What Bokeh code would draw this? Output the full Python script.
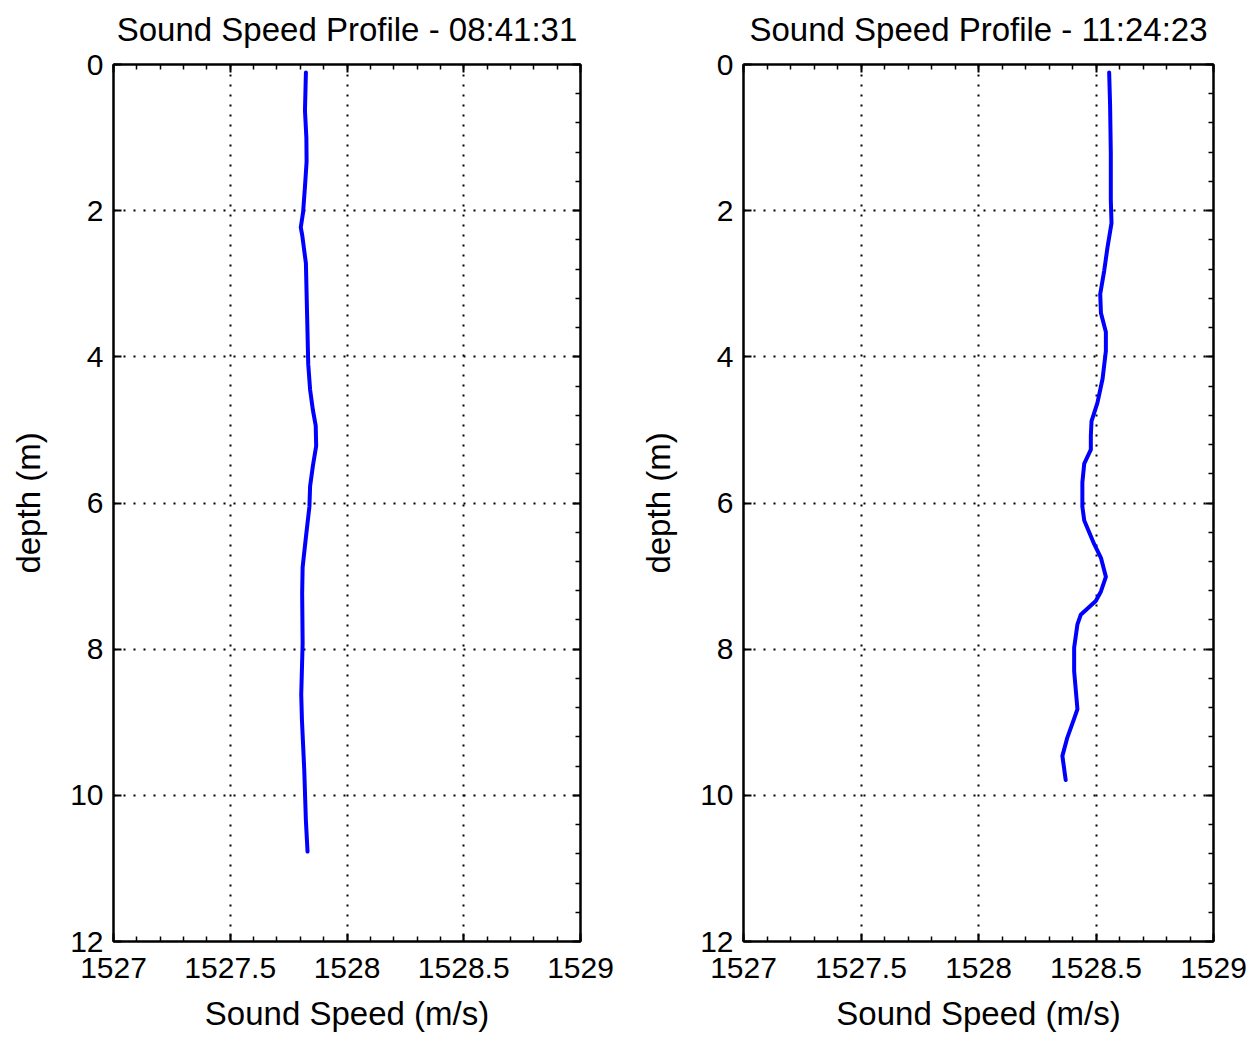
from bokeh.plotting import figure
from bokeh.layouts import row
from bokeh.models import LinearAxis, SingleIntervalTicker, Range1d, CustomLabelingPolicy
from bokeh.embed import file_html
from bokeh.resources import INLINE

# ---------------- data ----------------
title_left = "Sound Speed Profile - 08:41:31"
title_right = "Sound Speed Profile - 11:24:23"
x_label = "Sound Speed (m/s)"
y_label = "depth (m)"

x_ticks = [1527, 1527.5, 1528, 1528.5, 1529]
x_tick_labels = ["1527", "1527.5", "1528", "1528.5", "1529"]
y_ticks = [0, 2, 4, 6, 8, 10, 12]
y_tick_labels = ["0", "2", "4", "6", "8", "10", "12"]

depth_left = [0.11, 0.63, 1.00, 1.33, 1.67, 2.02, 2.23, 2.33, 2.72, 3.41, 4.10, 4.45,
              4.73, 4.94, 5.22, 5.49, 5.77, 6.05, 6.47, 6.88, 7.23, 7.92, 8.62,
              8.97, 9.31, 9.66, 10.35, 10.77]
speed_left = [1527.824, 1527.820, 1527.826, 1527.827, 1527.820, 1527.812, 1527.802, 1527.808,
              1527.824, 1527.829, 1527.834, 1527.842, 1527.854, 1527.866, 1527.868,
              1527.854, 1527.842, 1527.839, 1527.824, 1527.810, 1527.808, 1527.810,
              1527.804, 1527.807, 1527.812, 1527.817, 1527.824, 1527.831]

depth_right = [0.11, 0.56, 1.21, 1.85, 2.17, 2.50, 2.82, 3.14, 3.40, 3.66, 3.92,
               4.30, 4.63, 4.88, 5.08, 5.27, 5.46, 5.72, 6.05, 6.24, 6.56, 6.75,
               7.01, 7.21, 7.34, 7.53, 7.66, 7.98, 8.30, 8.82, 8.95, 9.21, 9.46, 9.79]
speed_right = [1528.556, 1528.560, 1528.563, 1528.563, 1528.566, 1528.549, 1528.535,
               1528.518, 1528.521, 1528.542, 1528.542, 1528.528, 1528.506, 1528.481,
               1528.478, 1528.478, 1528.450, 1528.442, 1528.442, 1528.450, 1528.492,
               1528.521, 1528.542, 1528.521, 1528.499, 1528.435, 1528.421, 1528.407,
               1528.407, 1528.421, 1528.407, 1528.378, 1528.357, 1528.371]

FONT = "Liberation Sans"


def make(title, speed, depth, fw, border_right):
    p = figure(frame_width=fw, frame_height=877,
               x_range=Range1d(x_ticks[0], x_ticks[-1]),
               y_range=Range1d(y_ticks[-1], y_ticks[0]),
               output_backend="svg", toolbar_location=None,
               min_border_left=113, min_border_right=border_right,
               min_border_top=65, min_border_bottom=90,
               margin=(-9, 0, 0, 0),
               title=title)
    p.title.align = "center"
    p.title.text_font = FONT
    p.title.text_font_size = "33px"
    p.title.text_font_style = "normal"
    p.title.text_color = "black"
    p.title.standoff = 34

    p.line(speed, depth, line_color="#0000ff", line_width=4,
           line_join="round", line_cap="round")

    xt = SingleIntervalTicker(interval=0.5, num_minor_ticks=5)
    yt = SingleIntervalTicker(interval=2, num_minor_ticks=5)

    for ax, tk, labels in ((p.xaxis[0], xt, dict(zip(x_ticks, x_tick_labels))),
                           (p.yaxis[0], yt, dict(zip(y_ticks, y_tick_labels)))):
        ax.ticker = tk
        ax.major_label_overrides = labels
        ax.major_label_text_font = FONT
        ax.major_label_text_font_size = "30px"
        ax.major_label_text_color = "black"
        ax.axis_label_text_font = FONT
        ax.axis_label_text_font_size = "33px"
        ax.axis_label_text_font_style = "normal"
        ax.axis_label_text_color = "black"
        ax.axis_line_width = 2
        ax.axis_line_color = "black"
        ax.major_tick_in = 8
        ax.major_tick_out = 0
        ax.major_tick_line_width = 2
        ax.minor_tick_in = 5
        ax.minor_tick_out = 0
        ax.minor_tick_line_width = 1.5
    p.xaxis.axis_label = x_label
    p.yaxis.axis_label = y_label
    p.xaxis.major_label_standoff = 16
    p.yaxis.major_label_standoff = 10
    p.xaxis.axis_label_standoff = 14
    p.yaxis.axis_label_standoff = 20
    p.yaxis.minor_tick_line_color = None

    for loc, tk in (("right", yt), ("above", xt)):
        a = LinearAxis(ticker=tk, major_label_text_font_size="1px",
                       major_label_text_alpha=0,
                       major_label_policy=CustomLabelingPolicy(
                           code="for (const i of indices) { if (i < 0) yield i }"),
                       major_label_standoff=0, axis_line_width=2,
                       major_tick_in=8, major_tick_out=0, major_tick_line_width=2,
                       minor_tick_in=5, minor_tick_out=0, minor_tick_line_width=1.5)
        p.add_layout(a, loc)

    for g in (p.xgrid[0], p.ygrid[0]):
        g.grid_line_color = "black"
        g.grid_line_dash = "2 8"
        g.grid_line_width = 2
    p.xgrid.ticker = xt
    p.ygrid.ticker = yt

    p.outline_line_color = "black"
    p.outline_line_width = 2
    p.outline_line_alpha = 1
    return p


p1 = make(title_left, speed_left, depth_left, 467, 50)
p2 = make(title_right, speed_right, depth_right, 470, 42)
layout = row(p1, p2)
open("out.html", "w").write(file_html(layout, INLINE))
